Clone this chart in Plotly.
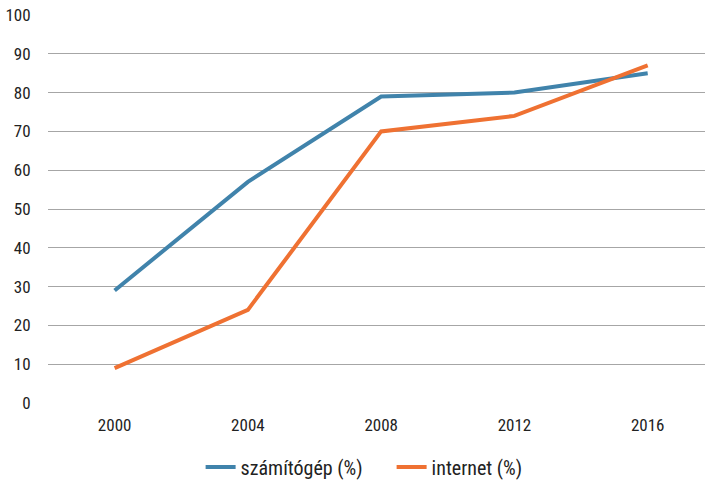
import plotly.graph_objects as go

years = ["2000", "2004", "2008", "2012", "2016"]
szamitogep = [29, 57, 79, 80, 85]
internet = [9, 24, 70, 74, 87]
y_ticks = list(range(0, 101, 10))

xpos = list(range(len(years)))
font_family = "Liberation Sans Narrow, Roboto Condensed, Roboto, sans-serif"

fig = go.Figure()
fig.add_trace(go.Scatter(x=xpos, y=szamitogep, mode="lines", name="számítógép (%)",
                         line=dict(color="#4083AB", width=4)))
fig.add_trace(go.Scatter(x=xpos, y=internet, mode="lines", name="internet (%)",
                         line=dict(color="#EF7132", width=4)))

fig.update_layout(
    width=705, height=482,
    margin=dict(l=48, r=0, t=15, b=79, autoexpand=False),
    plot_bgcolor="white", paper_bgcolor="white",
    font=dict(family=font_family, size=17, color="#222222"),
    showlegend=True,
    legend=dict(orientation="h", x=0.523, xanchor="center",
                yref="container", y=0.031, yanchor="middle",
                font=dict(size=20, color="#222222"), itemwidth=30,
                entrywidth=146, entrywidthmode="pixels"),
    xaxis=dict(range=[-0.5, 4.43], tickvals=xpos, ticktext=years,
               showgrid=False, zeroline=False, showline=False,
               ticks="outside", ticklen=7, tickcolor="rgba(0,0,0,0)"),
    yaxis=dict(range=[0, 100], tickvals=y_ticks, showgrid=True,
               gridcolor="#A6A6A6", gridwidth=1, zeroline=False, showline=False,
               ticks="outside", ticklen=13, tickcolor="rgba(0,0,0,0)"),
)

fig.write_html("out.html", post_script="document.body.style.margin='0';",
               config={"displayModeBar": False})
